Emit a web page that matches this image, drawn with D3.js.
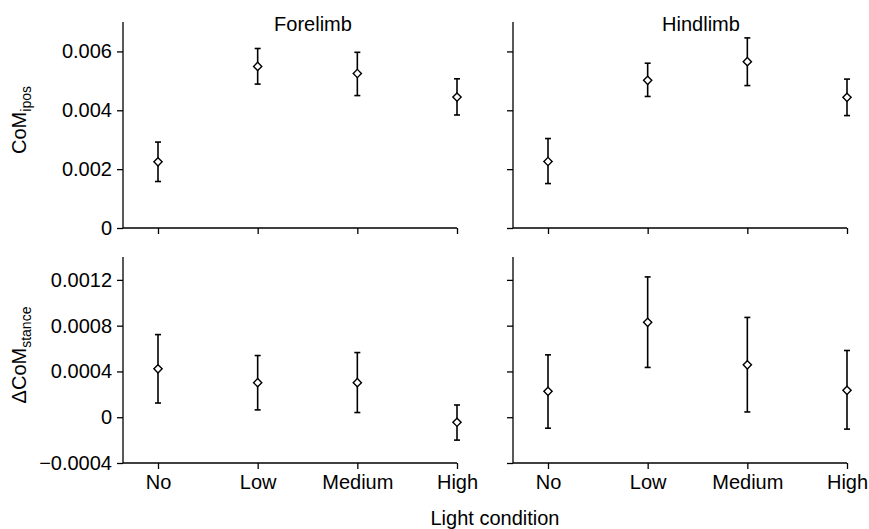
<!DOCTYPE html>
<html>
<head>
<meta charset="utf-8">
<script src="https://cdn.jsdelivr.net/npm/d3@7"></script>
<style>
  body { margin: 0; background: #fff; }
  svg text { font-family: "Liberation Sans", Arial, sans-serif; fill: #000; }
</style>
</head>
<body>
<svg id="chart" width="869" height="529"></svg>
<script>
// light conditions on the x axis
const conditions = ["No", "Low", "Medium", "High"];
const panelTitles = ["Forelimb", "Hindlimb"];

// CoM ipos (top row): mean, lower, upper
const iposFore = [[0.00225, 0.00158, 0.00292], [0.00549, 0.00489, 0.0061], [0.00525, 0.0045, 0.00597], [0.00445, 0.00384, 0.00507]];
const iposHind = [[0.00226, 0.00151, 0.00304], [0.00502, 0.00447, 0.0056], [0.00565, 0.00484, 0.00646], [0.00444, 0.00382, 0.00506]];

// delta CoM stance (bottom row)
const stanceFore = [[0.000423, 0.000124, 0.000722], [0.000302, 0.000064, 0.000539], [0.000302, 0.000041, 0.000565], [-0.000044, -0.0002, 0.000107]];
const stanceHind = [[0.000226, -0.000096, 0.000545], [0.000829, 0.000435, 0.001226], [0.000458, 0.000046, 0.000872], [0.000235, -0.000104, 0.000583]];

const iposTicks = [0, 0.002, 0.004, 0.006];
const stanceTicks = [-0.0004, 0, 0.0004, 0.0008, 0.0012];

const svg = d3.select("#chart");

const cols = [{x0: 123, x1: 457}, {x0: 513, x1: 847}];
const rows = [
  {y0: 22, y1: 228, domain: [0, 0.007], ticks: iposTicks, data: [iposFore, iposHind]},
  {y0: 257, y1: 463, domain: [-0.0004, 0.0014], ticks: stanceTicks, data: [stanceFore, stanceHind]}
];

function fmt(v) {
  if (v == 0) return "0";
  let s = String(+v.toPrecision(6));
  return s.replace("-", "\u2212");
}

rows.forEach((row, r) => {
  cols.forEach((col, c) => {
    let x = d3.scalePoint().domain(conditions).range([col.x0 + 35, col.x1]);
    let y = d3.scaleLinear().domain(row.domain).range([row.y1, row.y0]);

    let g = svg.append("g");

    // y axis
    let yAxis = d3.axisLeft(y).tickValues(row.ticks).tickSize(6).tickPadding(5)
      .tickFormat(c == 0 ? fmt : "");
    let ya = g.append("g").attr("transform", `translate(${col.x0},0)`).call(yAxis);
    ya.select(".domain").attr("d", `M0,${row.y0}V${row.y1}`);

    // x axis
    let xAxis = d3.axisBottom(x).tickSize(6).tickPadding(6)
      .tickFormat(r == 1 ? (d => d) : "");
    let xa = g.append("g").attr("transform", `translate(0,${row.y1})`).call(xAxis);
    xa.select(".domain").attr("d", `M${col.x0},0H${col.x1}`);

    [ya, xa].forEach(a => {
      a.selectAll("path, line").attr("stroke", "#000").attr("stroke-width", 1.3);
      a.selectAll("text").style("font-size", "20px").attr("fill", "#000");
    });

    let pts = row.data[c].map((d, i) => ({cond: conditions[i], m: d[0], lo: d[1], hi: d[2]}));

    // error bars
    let eb = g.append("g").selectAll("g").data(pts).join("g");
    eb.append("line")
      .attr("x1", d => x(d.cond)).attr("x2", d => x(d.cond))
      .attr("y1", d => y(d.lo)).attr("y2", d => y(d.hi))
      .attr("stroke", "#000").attr("stroke-width", 1.6);
    ["lo", "hi"].forEach(k => {
      eb.append("line")
        .attr("x1", d => x(d.cond) - 3).attr("x2", d => x(d.cond) + 3)
        .attr("y1", d => y(d[k])).attr("y2", d => y(d[k]))
        .attr("stroke", "#000").attr("stroke-width", 1.6);
    });

    // diamond markers
    g.append("g").selectAll("path").data(pts).join("path")
      .attr("d", d3.symbol(d3.symbolSquare, 34))
      .attr("transform", d => `translate(${x(d.cond)},${y(d.m)}) rotate(45)`)
      .attr("fill", "#fff").attr("stroke", "#000").attr("stroke-width", 1.4);

    if (r == 0) {
      g.append("text")
        .attr("x", c == 0 ? 313 : 701).attr("y", 31)
        .attr("text-anchor", "middle").style("font-size", "20px")
        .text(panelTitles[c]);
    }
  });
});

// y axis labels
let yl1 = svg.append("text").attr("transform", "translate(26,120) rotate(-90)")
  .attr("text-anchor", "middle").style("font-size", "20px");
yl1.append("tspan").text("CoM");
yl1.append("tspan").attr("dy", 5).style("font-size", "14px").text("ipos");

let yl2 = svg.append("text").attr("transform", "translate(26,355) rotate(-90)")
  .attr("text-anchor", "middle").style("font-size", "20px");
yl2.append("tspan").text("\u0394CoM");
yl2.append("tspan").attr("dy", 5).style("font-size", "14px").text("stance");

svg.append("text").attr("x", 495).attr("y", 525)
  .attr("text-anchor", "middle").style("font-size", "20px")
  .text("Light condition");
</script>
</body>
</html>
